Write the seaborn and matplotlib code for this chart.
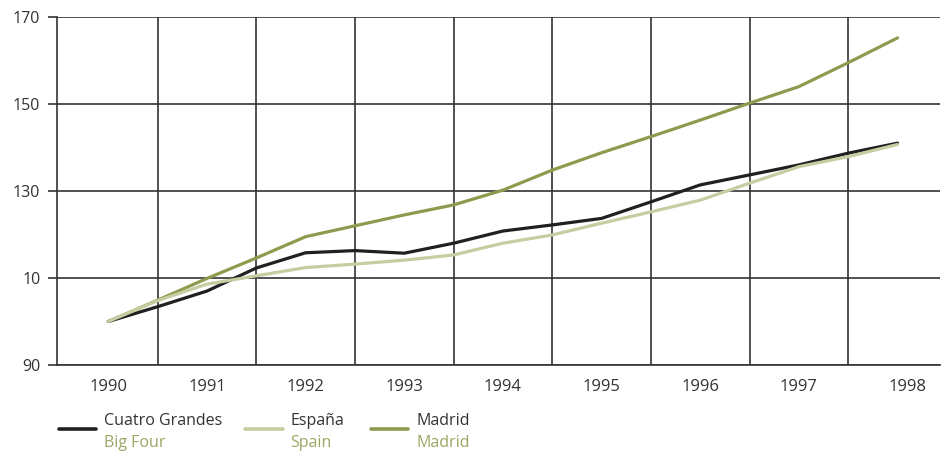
import matplotlib
matplotlib.use("Agg")
import matplotlib.pyplot as plt
import matplotlib.transforms as mtransforms
from matplotlib.lines import Line2D
import seaborn as sns
import pandas as pd

# ---- data ----
years = [1990, 1990.5, 1991, 1991.5, 1992, 1992.5, 1993, 1993.5, 1994,
         1994.5, 1995, 1995.5, 1996, 1996.5, 1997, 1997.5, 1998]
cuatro_grandes = [100, 103.4, 107.0, 112.3, 115.8, 116.3, 115.7, 118.0, 120.8,
                  122.2, 123.7, 127.5, 131.4, 133.7, 136.0, 138.7, 141.0]
espana = [100, 104.8, 108.6, 110.5, 112.4, 113.2, 114.1, 115.3, 118.0,
          119.9, 122.6, 125.2, 127.9, 131.8, 135.6, 137.9, 140.7]
madrid = [100, 104.9, 109.9, 114.6, 119.5, 122.0, 124.5, 126.8, 130.2,
          134.8, 138.8, 142.5, 146.3, 150.2, 154.0, 159.5, 165.2]

series_es = ["Cuatro Grandes", "España", "Madrid"]
series_en = ["Big Four", "Spain", "Madrid"]
x_ticks = [1990, 1991, 1992, 1993, 1994, 1995, 1996, 1997, 1998]
x_labels = ["1990", "1991", "1992", "1993", "1994", "1995", "1996", "1997", "1998"]
y_ticks = [90, 110, 130, 150, 170]
y_labels = ["90", "10", "130", "150", "170"]

# ---- styling ----
C_BLACK = "#231f20"
C_SPAIN = "#c6cda0"
C_MADRID = "#8e9a4e"
C_EN = "#9ca664"
C_GRID = "#333333"
C_TEXT = "#333333"

sns.set_theme(style="white")
plt.rcParams["font.family"] = ["Open Sans", "DejaVu Sans"]

df = pd.DataFrame({"year": years,
                   "Cuatro Grandes": cuatro_grandes,
                   "España": espana,
                   "Madrid": madrid})
long = df.melt(id_vars="year", var_name="series", value_name="value")

fig = plt.figure(figsize=(9.42, 4.54), dpi=100)
ax = fig.add_axes([57 / 942, 1 - 365 / 454, (940 - 57) / 942, (365 - 17) / 454])

palette = {"Cuatro Grandes": C_BLACK, "España": C_SPAIN, "Madrid": C_MADRID}
sns.lineplot(data=long, x="year", y="value", hue="series",
             hue_order=["Madrid", "Cuatro Grandes", "España"],
             palette=palette, linewidth=2.3, legend=False, ax=ax, zorder=3)

ax.set_xlim(1989.48, 1998.43)
ax.set_ylim(90, 170)
ax.set_xlabel("")
ax.set_ylabel("")

for s in ["top", "right"]:
    ax.spines[s].set_visible(False)
for s in ["left", "bottom"]:
    ax.spines[s].set_color(C_GRID)
    ax.spines[s].set_linewidth(1.2)

ax.set_yticks(y_ticks)
ax.set_yticklabels(y_labels)
ax.set_xticks(x_ticks)
ax.set_xticklabels(x_labels)
ax.set_xticks([y + 0.5 for y in x_ticks[:-1]], minor=True)

ax.tick_params(axis="y", left=True, length=6.5, width=1.2, color=C_GRID,
               pad=5.5, labelsize=11.5, labelcolor=C_TEXT)
ax.tick_params(axis="x", which="both", bottom=False, length=0, pad=10,
               labelsize=12, labelcolor=C_TEXT)

ax.yaxis.grid(True, color=C_GRID, linewidth=1.2)
ax.xaxis.grid(False, which="major")
ax.xaxis.grid(True, which="minor", color=C_GRID, linewidth=1.2)
ax.set_axisbelow(True)

# shift last x label slightly right as in the reference
last = ax.get_xticklabels()[-1]
last.set_transform(last.get_transform() +
                   mtransforms.ScaledTranslation(10 / 100, 0, fig.dpi_scale_trans))

# ---- legend (manual, bilingual) ----
legend_pos = [(59, 96, 104), (245, 283, 290), (371, 408, 416)]
colors = [C_BLACK, C_SPAIN, C_MADRID]
W, H = 942, 454
for (x0, x1, xt), es, en, c in zip(legend_pos, series_es, series_en, colors):
    fig.add_artist(Line2D([x0 / W, x1 / W], [1 - 429 / H, 1 - 429 / H],
                          transform=fig.transFigure, color=c, linewidth=2.6))
    fig.text(xt / W, 1 - 421 / H, es, ha="left", va="center",
             fontsize=11.5, color=C_TEXT)
    fig.text(xt / W, 1 - 443 / H, en, ha="left", va="center",
             fontsize=11.5, color=C_EN)

fig.savefig("out.png", dpi=100)
